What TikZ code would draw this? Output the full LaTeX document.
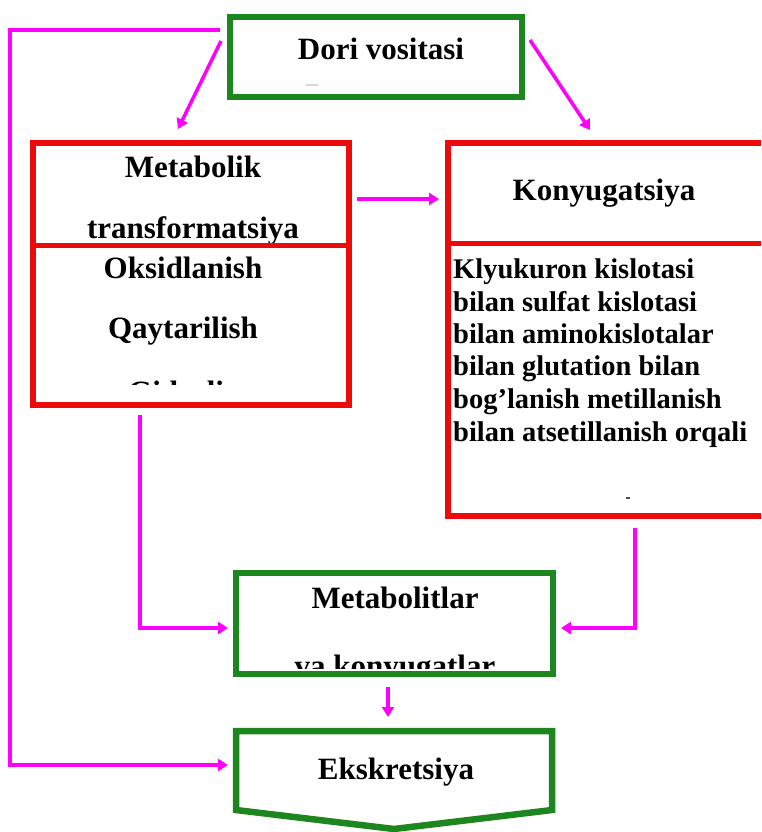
\documentclass[tikz,border=0pt]{standalone}
\usepackage{fontspec}
\setmainfont{Liberation Serif}
\usetikzlibrary{arrows.meta}
\definecolor{boxgreen}{RGB}{30,134,30}
\definecolor{boxred}{RGB}{236,10,10}
\definecolor{flow}{RGB}{255,0,255}
\tikzset{
  greenbox/.style={draw=boxgreen, line width=6.5pt, fill=white, inner sep=0pt, outer sep=0pt},
  redbox/.style={draw=boxred, line width=6pt, fill=white, inner sep=0pt, outer sep=0pt},
  divider/.style={draw=boxred, line width=5pt},
  flowarrow/.style={draw=flow, line width=3.5pt, line join=miter,
    -{Triangle[length=10pt,width=12pt]}},
  title/.style={font=\bfseries\fontsize{31}{36}\selectfont, inner sep=0pt, anchor=base},
  body/.style={font=\bfseries\fontsize{28.5}{32}\selectfont, inner sep=0pt, anchor=base west},
}
\begin{document}
\begin{tikzpicture}[x=1pt,y=-1pt]
\useasboundingbox (0,0) rectangle (761,832);
\clip (0,0) rectangle (761,832);
\fill[white] (0,0) rectangle (761,832);

% boxes
\node[greenbox, minimum width=292pt, minimum height=80pt] (dori) at (376,57) {};
\node[redbox, minimum width=316pt, minimum height=262pt] (metab) at (191,274) {};
\node[redbox, minimum width=360pt, minimum height=373pt] (konyu) at (628,329.5) {};
\node[greenbox, minimum width=317pt, minimum height=101pt] (metlit) at (394.5,623.5) {};

% excretion: pointed box
\draw[draw=boxgreen, line width=6.5pt, fill=white, line join=miter]
  (236,731) -- (552,731) -- (552,810) -- (394,829) -- (236,810) -- cycle;
\coordinate (eksW) at (233,765);
\coordinate (eksN) at (388,728);

% texts
\node[title] (t-dori) at (381,60) {Dori vositasi};
\node[title] (t-metab1) at (193,177) {Metabolik};
\node[title] (t-metab2) at (193,238) {transformatsiya};
\node[title] (t-oks) at (183,278) {Oksidlanish};
\node[title] (t-qay) at (183,338) {Qaytarilish};
\begin{scope}
  \clip (36,300) rectangle (346,384);
  \node[title] (t-gid) at (183,402) {Gidroliz};
\end{scope}
\node[title] (t-konyu) at (604,200) {Konyugatsiya};
\node[body] (l1) at (453,278) {Klyukuron kislotasi};
\node[body] (l2) at (453,311) {bilan sulfat kislotasi};
\node[body] (l3) at (453,343) {bilan aminokislotalar};
\node[body] (l4) at (453,375) {bilan glutation bilan};
\node[body] (l5) at (453,408) {bog’lanish metillanish};
\node[body] (l6) at (453,441) {bilan atsetillanish orqali};
\node[title] (t-metlit1) at (395,608) {Metabolitlar};
\begin{scope}
  \clip (239,620) rectangle (550,668);
  \node[title] (t-metlit2) at (395,676) {va konyugatlar};
\end{scope}
\node[title] (t-eks) at (396,779) {Ekskretsiya};

% small stray marks
\draw[gray!30, line width=1.5pt] (306,85) -- (318,85);
\draw[black!70, line width=1.5pt] (626,498) -- (630,498);

% dividers
\draw[divider] (33,245) -- (349,245);
\draw[divider] (448,243) -- (761,243);

% connectors
\coordinate (loopS) at (220,30);
\coordinate (loopA) at (10,30);
\coordinate (loopB) at (10,765);
\coordinate (eksIn) at (228,765);
\draw[flowarrow] (loopS) -- (loopA) -- (loopB) -- (eksIn);

\coordinate (dL) at (221,41);
\coordinate (mT) at (178,129);
\draw[flowarrow] (dL) -- (mT);

\coordinate (dR) at (530,40);
\coordinate (kT) at (590,130);
\draw[flowarrow] (dR) -- (kT);

\coordinate (mR) at (357,199);
\coordinate (kL) at (439,199);
\draw[flowarrow] (mR) -- (kL);

\coordinate (mB) at (140,415);
\coordinate (mC) at (140,628);
\coordinate (mlIn) at (228,628);
\draw[flowarrow] (mB) -- (mC) -- (mlIn);

\coordinate (kB) at (635,528);
\coordinate (kC) at (635,628);
\coordinate (mrIn) at (561,628);
\draw[flowarrow] (kB) -- (kC) -- (mrIn);

\coordinate (mlB) at (388,687);
\coordinate (eksT) at (388,717);
\draw[flowarrow] (mlB) -- (eksT);
\end{tikzpicture}
\end{document}
